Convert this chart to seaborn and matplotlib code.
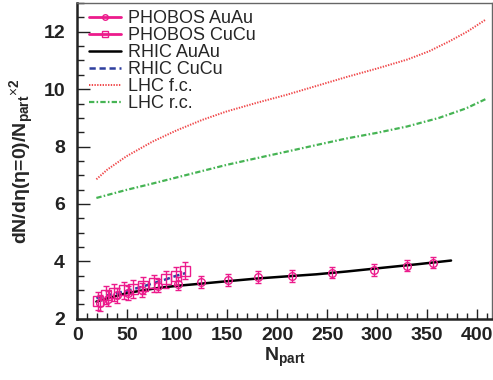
import numpy as np
import pandas as pd
import matplotlib
matplotlib.use("Agg")
import matplotlib.pyplot as plt
import seaborn as sns
from matplotlib.lines import Line2D
from matplotlib.ticker import MultipleLocator

# ---------------------------------------------------------------------
# Data
# ---------------------------------------------------------------------

# PHOBOS AuAu (open circles)
auau_npart = [23, 31, 40, 51, 65, 81, 101, 124, 151, 181, 215, 255, 297, 330, 356]
auau_val = [2.55, 2.70, 2.82, 2.90, 3.00, 3.15, 3.22, 3.27, 3.35, 3.45, 3.50, 3.61, 3.70, 3.85, 3.96]
auau_err = [0.28, 0.27, 0.26, 0.25, 0.24, 0.23, 0.22, 0.21, 0.20, 0.20, 0.20, 0.20, 0.20, 0.20, 0.20]

# PHOBOS CuCu (open squares)
cucu_npart = [21, 29, 37, 47, 56, 66, 77, 89, 99, 108]
cucu_val = [2.62, 2.83, 2.91, 3.00, 3.04, 3.16, 3.24, 3.38, 3.49, 3.67]
cucu_err = [0.30, 0.30, 0.30, 0.30, 0.30, 0.30, 0.30, 0.30, 0.30, 0.30]

# RHIC AuAu (solid line)
rhic_au_x = [19, 35, 49, 65, 82, 100, 116, 150, 182, 210, 239, 270, 306, 340, 374]
rhic_au_y = [2.60, 2.76, 2.89, 2.99, 3.08, 3.15, 3.20, 3.31, 3.41, 3.48, 3.55, 3.65, 3.78, 3.90, 4.03]

# RHIC CuCu (dashed line)
rhic_cu_x = [19, 35, 49, 63, 76, 89, 99, 108]
rhic_cu_y = [2.72, 2.86, 2.97, 3.10, 3.24, 3.38, 3.50, 3.59]

# LHC f.c. (dotted line)
lhc_fc_x = [19, 30, 49, 75, 99, 125, 149, 180, 209, 240, 269, 300, 330, 352, 372, 390, 409]
lhc_fc_y = [6.86, 7.20, 7.66, 8.17, 8.56, 8.93, 9.22, 9.53, 9.80, 10.12, 10.42, 10.72,
            11.03, 11.32, 11.66, 12.00, 12.43]

# LHC r.c. (dash-dot line)
lhc_rc_x = [19, 49, 75, 100, 125, 149, 180, 209, 240, 269, 300, 330, 362, 389, 409]
lhc_rc_y = [6.21, 6.49, 6.71, 6.93, 7.15, 7.36, 7.60, 7.82, 8.06, 8.28, 8.48, 8.70,
            9.00, 9.33, 9.66]

# ---------------------------------------------------------------------
# Style
# ---------------------------------------------------------------------

sns.set_theme(style="ticks")
plt.rcParams["font.family"] = ["Liberation Sans", "DejaVu Sans"]
plt.rcParams["mathtext.fontset"] = "custom"
plt.rcParams["mathtext.rm"] = "Liberation Sans"
plt.rcParams["mathtext.bf"] = "Liberation Sans:bold"
plt.rcParams["mathtext.it"] = "Liberation Sans:italic"

pink = "#ec1b8c"
blue = "#2e3f9e"
red = "#f0484a"
green = "#46b454"

fig = plt.figure(figsize=(4.93, 3.8), dpi=100)
ax = fig.add_axes([0.157, 0.161, 0.841, 0.831])

# curves
sns.lineplot(x=lhc_fc_x, y=lhc_fc_y, ax=ax, color=red, lw=1.4,
             linestyle=(0, (0.7, 0.7)))
sns.lineplot(x=lhc_rc_x, y=lhc_rc_y, ax=ax, color=green, lw=1.6,
             linestyle=(0, (2.4, 1.0, 0.7, 1.0)))
sns.lineplot(x=rhic_au_x, y=rhic_au_y, ax=ax, color="black", lw=1.8)
sns.lineplot(x=rhic_cu_x, y=rhic_cu_y, ax=ax, color=blue, lw=1.8,
             linestyle=(0, (2.5, 1.5)))

# data points with error bars
ax.errorbar(auau_npart, auau_val, yerr=auau_err, fmt="o", ms=5.5, mfc="none",
            mec=pink, mew=1.0, ecolor=pink, elinewidth=1.0, capsize=2.4,
            capthick=2.5, zorder=5)
ax.errorbar(cucu_npart, cucu_val, yerr=cucu_err, fmt="s", ms=6.5, mfc="none",
            mec=pink, mew=1.0, ecolor=pink, elinewidth=1.0, capsize=2.4,
            capthick=2.5, zorder=5)

ax.set_xlim(0, 415)
ax.set_ylim(2, 13)

ax.xaxis.set_major_locator(MultipleLocator(50))
ax.xaxis.set_minor_locator(MultipleLocator(10))
ax.yaxis.set_major_locator(MultipleLocator(2))
ax.yaxis.set_minor_locator(MultipleLocator(0.5))
ax.tick_params(axis="both", which="both", direction="in", top=False, right=False,
               colors="#222222")
ax.tick_params(axis="y", which="major", length=9, width=1.0, pad=9)
ax.tick_params(axis="y", which="minor", length=5, width=1.0)
ax.tick_params(axis="x", which="major", length=7, width=1.0, pad=6)
ax.tick_params(axis="x", which="minor", length=4, width=1.0)
for lab in ax.get_xticklabels() + ax.get_yticklabels():
    lab.set_fontsize(14)
    lab.set_fontweight("bold")
    lab.set_color("#222222")

for side in ["left", "bottom"]:
    ax.spines[side].set_linewidth(1.8)
    ax.spines[side].set_color("#222222")
for side in ["top", "right"]:
    ax.spines[side].set_linewidth(1.0)
    ax.spines[side].set_color("#666666")

ax.set_xlabel(r"N$_{\mathbf{part}}$", fontsize=14, fontweight="bold", labelpad=1)
ax.set_ylabel(r"dN/dη(η=0)/N$_{\mathbf{part}}{}^{\times\mathbf{2}}$",
              fontsize=14, fontweight="bold", labelpad=5)

handles = [
    Line2D([], [], color=pink, lw=2, marker="o", ms=4, mfc="none", mec=pink),
    Line2D([], [], color=pink, lw=2, marker="s", ms=4, mfc="none", mec=pink),
    Line2D([], [], color="black", lw=1.8),
    Line2D([], [], color=blue, lw=1.8, linestyle=(0, (2.5, 1.5))),
    Line2D([], [], color=red, lw=1.4, linestyle=(0, (0.7, 0.7))),
    Line2D([], [], color=green, lw=1.6, linestyle=(0, (2.4, 1.0, 0.7, 1.0))),
]
labels = ["PHOBOS AuAu", "PHOBOS CuCu", "RHIC AuAu", "RHIC CuCu",
          "LHC f.c.", "LHC r.c."]
ax.legend(handles, labels, loc="upper left", frameon=False, fontsize=13,
          handlelength=1.8, handletextpad=0.4, labelspacing=0.0,
          borderaxespad=0.0, bbox_to_anchor=(0.01, 1.0))

fig.savefig("out.png", dpi=100)
